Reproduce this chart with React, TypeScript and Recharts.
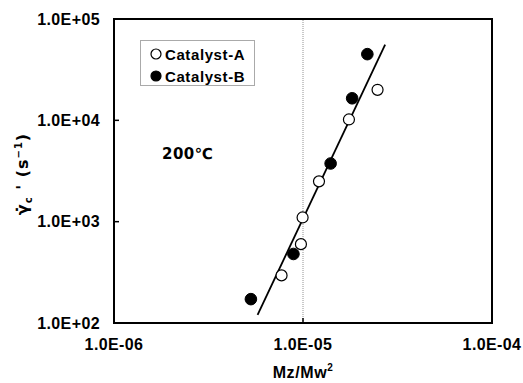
import React from "react";
import {
  ComposedChart,
  XAxis,
  YAxis,
  Scatter,
  Line,
  ReferenceLine,
  ReferenceArea,
  Legend,
} from "recharts";

// Catalyst-A (open circles): Mz/Mw^2 vs critical shear rate
const catalystA = [
  { x: 7.7e-6, y: 295 },
  { x: 9.75e-6, y: 600 },
  { x: 9.95e-6, y: 1100 },
  { x: 1.215e-5, y: 2500 },
  { x: 1.75e-5, y: 10200 },
  { x: 2.48e-5, y: 20000 },
];

// Catalyst-B (filled circles)
const catalystB = [
  { x: 5.3e-6, y: 172 },
  { x: 8.9e-6, y: 480 },
  { x: 1.4e-5, y: 3750 },
  { x: 1.82e-5, y: 16500 },
  { x: 2.19e-5, y: 45000 },
];

// Fitted power-law line end points
const fitLine = [
  { x: 5.75e-6, y: 120 },
  { x: 2.72e-5, y: 56000 },
];

const xTicks = [1e-6, 1e-5, 1e-4];
const yTicks = [1e2, 1e3, 1e4, 1e5];
const seriesNames = ["Catalyst-A", "Catalyst-B"];
const tempLabel = "200℃";
const xTitle = "Mz/Mw";

const FONT = "'Liberation Sans', Arial, sans-serif";
const FONT2 = "'DejaVu Sans', sans-serif";

const fmt = (v: number) => {
  const e = Math.round(Math.log10(v));
  const s = e < 0 ? "-" : "+";
  const a = Math.abs(e);
  return "1.0E" + s + (a < 10 ? "0" + a : String(a));
};

const OpenDot = (p: any) => (
  <circle cx={p.cx} cy={p.cy} r={5.5} fill="#fff" stroke="#000" strokeWidth={1.2} />
);
const FilledDot = (p: any) => (
  <circle cx={p.cx} cy={p.cy} r={5.8} fill="#000" stroke="#000" strokeWidth={1} />
);

const LegendBox = () => (
  <div
    style={{
      width: 115,
      height: 46,
      border: "1px solid #aaa",
      boxSizing: "border-box",
      fontFamily: FONT,
      fontWeight: "bold",
      fontSize: 15,
      letterSpacing: 0.6,
      color: "#000",
      paddingTop: 2,
    }}
  >
    {seriesNames.map((n, i) => (
      <div key={n} style={{ display: "flex", alignItems: "center", height: 22, paddingLeft: 8 }}>
        <svg width={14} height={14} style={{ marginRight: 2 }}>
          <circle
            cx={7}
            cy={7}
            r={5}
            fill={i === 0 ? "#fff" : "#000"}
            stroke="#000"
            strokeWidth={1.2}
          />
        </svg>
        <span>{n}</span>
      </div>
    ))}
  </div>
);

const YTitle = () => (
  <text
    transform="translate(28,174) rotate(-90)"
    textAnchor="middle"
    fontFamily={FONT2}
    fontWeight="bold"
    fontSize={16}
    fill="#000"
    letterSpacing={1}
  >
    <tspan>γ̇</tspan>
    <tspan dy={4} fontSize={10}>c</tspan>
    <tspan dy={-4}> ' (s</tspan>
    <tspan dy={-6} fontSize={10}>−1</tspan>
    <tspan dy={6}>)</tspan>
  </text>
);

const XTitle = () => (
  <text
    x={303}
    y={378}
    textAnchor="middle"
    fontFamily={FONT}
    fontWeight="bold"
    fontSize={16}
    fill="#000"
    letterSpacing={0.6}
  >
    <tspan>{xTitle}</tspan>
    <tspan dy={-7} fontSize={10}>2</tspan>
  </text>
);

const tickStyle = {
  fill: "#000",
  fontFamily: FONT,
  fontWeight: "bold",
  fontSize: 16,
  letterSpacing: 0.4,
};

export default function App() {
  return (
    <div style={{ position: "absolute", left: 0, top: 0, background: "#fff" }}>
      <ComposedChart
        width={523}
        height={383}
        margin={{ top: 19, right: 31, bottom: 20, left: 54 }}
      >
        <XAxis
          type="number"
          dataKey="x"
          scale="log"
          domain={[1e-6, 1e-4]}
          ticks={xTicks}
          tickFormatter={fmt}
          allowDataOverflow
          height={40}
          tickSize={-5}
          tickMargin={21}
          axisLine={{ stroke: "#000", strokeWidth: 2 }}
          tickLine={{ stroke: "#000", strokeWidth: 1.5 }}
          tick={tickStyle}
          label={<XTitle />}
        />
        <YAxis
          type="number"
          dataKey="y"
          scale="log"
          domain={[1e2, 1e5]}
          ticks={yTicks}
          tickFormatter={fmt}
          allowDataOverflow
          width={60}
          tickSize={-5}
          tickMargin={19}
          axisLine={{ stroke: "#000", strokeWidth: 2 }}
          tickLine={{ stroke: "#000", strokeWidth: 1.5 }}
          tick={tickStyle}
          label={<YTitle />}
        />
        <ReferenceLine x={1e-5} stroke="#777" strokeWidth={0.8} strokeDasharray="1 1" />
        <ReferenceArea
          x1={1e-6}
          x2={1e-4}
          y1={1e2}
          y2={1e5}
          fill="none"
          fillOpacity={0}
          stroke="#000"
          strokeWidth={2}
          ifOverflow="visible"
        />
        <Line
          data={fitLine}
          dataKey="y"
          stroke="#000"
          strokeWidth={1.8}
          dot={false}
          activeDot={false}
          legendType="none"
          isAnimationActive={false}
        />
        <Scatter
          name={seriesNames[0]}
          data={catalystA}
          shape={OpenDot}
          isAnimationActive={false}
        />
        <Scatter
          name={seriesNames[1]}
          data={catalystB}
          shape={FilledDot}
          isAnimationActive={false}
        />
        <Legend
          layout="horizontal"
          verticalAlign="middle"
          align="center"
          content={<LegendBox />}
          wrapperStyle={{ position: "absolute", left: 140, top: 40, width: 115, height: 46 }}
        />
      </ComposedChart>
      <div
        style={{
          position: "absolute",
          left: 162,
          top: 145,
          fontFamily: FONT2,
          fontWeight: "bold",
          fontSize: 15,
          letterSpacing: 0.5,
          color: "#000",
          lineHeight: "18px",
        }}
      >
        {tempLabel}
      </div>
    </div>
  );
}
